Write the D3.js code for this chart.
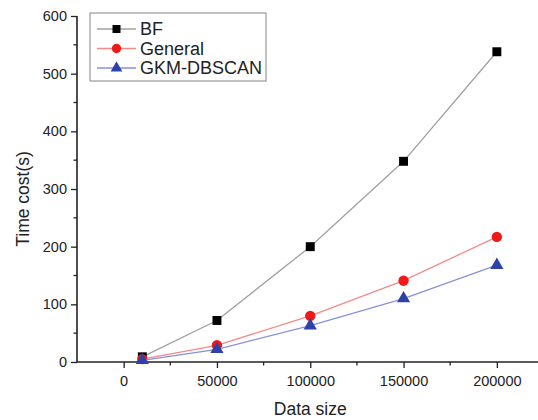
<!DOCTYPE html>
<html>
<head>
<meta charset="utf-8">
<script src="https://cdn.jsdelivr.net/npm/d3@7"></script>
<style>
  html, body { margin: 0; padding: 0; background: #fff; }
  svg { display: block; font-family: Arial, "Liberation Sans", sans-serif; }
</style>
</head>
<body>
<svg id="chart" width="538" height="420"></svg>
<script>
// Data sizes (x) and running time in seconds for each method
const dataSizes = [10000, 50000, 100000, 150000, 200000];
const bfTimes = [9, 72, 200, 348, 538];
const generalTimes = [5, 29, 80, 141, 217];
const gkmTimes = [3, 22, 63, 110, 168];

const xTickValues = [0, 50000, 100000, 150000, 200000];
const yTickValues = [0, 100, 200, 300, 400, 500, 600];
const seriesNames = ["BF", "General", "GKM-DBSCAN"];

const series = [
  { name: seriesNames[0], values: bfTimes, line: "#a0a0a0", fill: "#000000", symbol: d3.symbolSquare, size: 80 },
  { name: seriesNames[1], values: generalTimes, line: "#f28a8a", fill: "#f01818", symbol: d3.symbolCircle, size: 85 },
  { name: seriesNames[2], values: gkmTimes, line: "#8a90d8", fill: "#2c42a8", symbol: d3.symbolTriangle, size: 75 }
];

const svg = d3.select("#chart");
const width = 538, height = 420;

// The x axis runs on past the right edge of the drawing
const x = d3.scaleLinear().domain([-25000, 225000]).range([77, 543.5]);
const y = d3.scaleLinear().domain([0, 600]).range([362, 16]);

// Minor ticks halfway between the labelled ones
const xMinor = d3.range(0, 225001, 25000).filter(v => v % 50000 !== 0);
const yMinor = d3.range(50, 600, 100);

const axisColor = "#222";
const tickFont = 14.5;

// X axis
const gx = svg.append("g").attr("transform", `translate(0,${y(0)})`);
gx.append("line").attr("x1", x.range()[0]).attr("x2", x.range()[1])
  .attr("stroke", axisColor).attr("stroke-width", 1.6);
gx.selectAll(".minor").data(xMinor).join("line")
  .attr("x1", d => x(d)).attr("x2", d => x(d)).attr("y1", 0).attr("y2", 3.5)
  .attr("stroke", axisColor).attr("stroke-width", 1.3);
const xAxis = d3.axisBottom(x).tickValues(xTickValues).tickSize(6).tickPadding(8).tickFormat(d3.format("d"));
gx.append("g").call(xAxis).call(g => {
  g.select(".domain").remove();
  g.selectAll("line").attr("stroke", axisColor).attr("stroke-width", 1.3);
  g.selectAll("text").attr("font-size", tickFont).attr("fill", "#222").attr("font-family", "Arial, 'Liberation Sans', sans-serif");
});

// Y axis
const gy = svg.append("g").attr("transform", `translate(${x(-25000)},0)`);
gy.append("line").attr("y1", y(0)).attr("y2", y(600))
  .attr("stroke", axisColor).attr("stroke-width", 1.6);
gy.selectAll(".minor").data(yMinor).join("line")
  .attr("x1", 0).attr("x2", -3.5).attr("y1", d => y(d)).attr("y2", d => y(d))
  .attr("stroke", axisColor).attr("stroke-width", 1.3);
const yAxis = d3.axisLeft(y).tickValues(yTickValues).tickSize(6).tickPadding(4);
gy.append("g").call(yAxis).call(g => {
  g.select(".domain").remove();
  g.selectAll("line").attr("stroke", axisColor).attr("stroke-width", 1.3);
  g.selectAll("text").attr("font-size", tickFont).attr("fill", "#222").attr("font-family", "Arial, 'Liberation Sans', sans-serif");
});

// Axis titles
svg.append("text").attr("x", x(100000)).attr("y", 415).attr("text-anchor", "middle")
  .attr("font-size", 17.5).attr("fill", "#222").text("Data size");
svg.append("text").attr("transform", `translate(29,199) rotate(-90)`)
  .attr("text-anchor", "middle").attr("font-size", 17.5).attr("fill", "#222").text("Time cost(s)");

// Lines and markers
const line = d3.line().x((d, i) => x(dataSizes[i])).y(d => y(d));
series.forEach(s => {
  svg.append("path").datum(s.values).attr("d", line)
    .attr("fill", "none").attr("stroke", s.line).attr("stroke-width", 1.3);
  svg.append("g").selectAll("path").data(s.values).join("path")
    .attr("transform", (d, i) => `translate(${x(dataSizes[i])},${y(d)})`)
    .attr("d", d3.symbol().type(s.symbol).size(s.size))
    .attr("fill", s.fill);
});

// Legend
const legend = svg.append("g").attr("transform", "translate(90,13)");
legend.append("rect").attr("x", 0).attr("y", 0).attr("width", 176).attr("height", 68)
  .attr("fill", "#fff").attr("stroke", "#999").attr("stroke-width", 1.2);
series.forEach((s, i) => {
  const cy = 16 + i * 19.5;
  legend.append("line").attr("x1", 7).attr("x2", 46).attr("y1", cy).attr("y2", cy)
    .attr("stroke", s.line).attr("stroke-width", 1.3);
  legend.append("path").attr("transform", `translate(26.5,${cy})`)
    .attr("d", d3.symbol().type(s.symbol).size(s.size * 0.8)).attr("fill", s.fill);
  legend.append("text").attr("x", 50).attr("y", cy).attr("dy", "0.36em")
    .attr("font-size", 18).attr("fill", "#222").text(s.name);
});
</script>
</body>
</html>
